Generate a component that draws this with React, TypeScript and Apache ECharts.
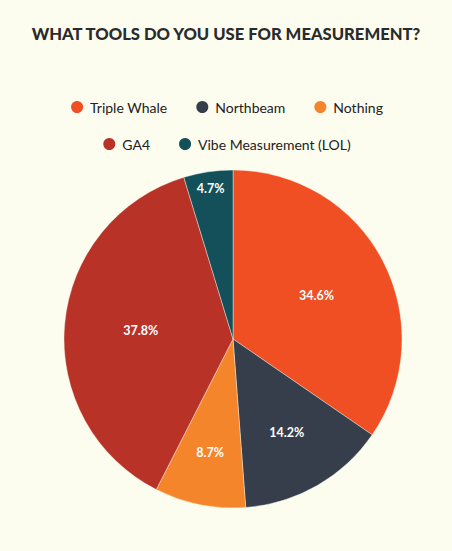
import { useEffect, useRef } from 'react'
import * as echarts from 'echarts'

// ── Data ──────────────────────────────────────────────────────────────────────

const TITLE = 'WHAT TOOLS DO YOU USE FOR MEASUREMENT?'
const categories = ['Triple Whale', 'Northbeam', 'Nothing', 'GA4', 'Vibe Measurement (LOL)']
const shares = [34.6, 14.2, 8.7, 37.8, 4.7]
const colors = ['#f04e23', '#353e4a', '#f5852a', '#b83228', '#14505a']

// where each label sits along its slice, as a fraction of the radius
const labelRadius = [0.54, 0.62, 0.67, 0.53, 0.88]

const BG = '#fcfcef'
const FONT = 'Lato, "Open Sans", sans-serif'
const RADIUS = 169

export default function App() {
  const ref = useRef<HTMLDivElement>(null)

  useEffect(() => {
    if (!ref.current) return
    const chart = echarts.init(ref.current, null, { renderer: 'svg' })

    const total = shares.reduce((a, b) => a + b, 0)
    let acc = 0
    const data = categories.map((name, i) => {
      const mid = ((acc + shares[i] / 2) / total) * Math.PI * 2
      acc += shares[i]
      const d = (labelRadius[i] - 0.5) * RADIUS
      return {
        name,
        value: shares[i],
        itemStyle: { color: colors[i] },
        label: { offset: [d * Math.sin(mid), -d * Math.cos(mid)] },
      }
    })

    const legendCommon = {
      icon: 'circle',
      itemWidth: 14,
      itemHeight: 14,
      itemGap: 27,
      left: 'center',
      textStyle: { fontFamily: FONT, fontSize: 14, color: '#222', padding: [0, 0, 0, 1] },
    }

    chart.setOption({
      animation: false,
      backgroundColor: BG,
      title: {
        text: TITLE,
        left: 'center',
        top: 20,
        textStyle: { fontFamily: FONT, fontSize: 16.6, fontWeight: 900, color: '#2b2b2b' },
      },
      legend: [
        { ...legendCommon, top: 94, data: categories.slice(0, 3) },
        { ...legendCommon, top: 131, data: categories.slice(3) },
      ],
      series: [
        {
          type: 'pie',
          center: [233, 339],
          radius: [0, RADIUS],
          startAngle: 90,
          clockwise: true,
          data,
          itemStyle: { borderColor: BG, borderWidth: 0.4 },
          label: {
            show: true,
            position: 'inside',
            formatter: (p: any) => `${p.value}%`,
            color: '#fff',
            fontFamily: FONT,
            fontWeight: 'bold',
            fontSize: 12.5,
          },
          labelLine: { show: false },
          emphasis: { disabled: true },
        },
      ],
    })

    return () => chart.dispose()
  }, [])

  return (
    <div
      ref={ref}
      style={{ position: 'fixed', left: 0, top: 0, width: 452, height: 551, background: BG }}
    />
  )
}
